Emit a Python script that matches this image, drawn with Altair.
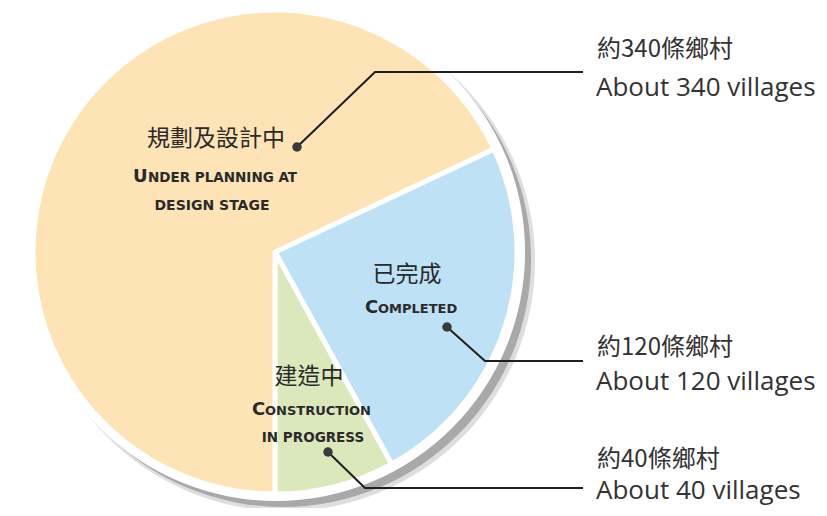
import math
import altair as alt
import pandas as pd

# ---- data ----
categories = ["Completed", "Construction in progress", "Under planning at design stage"]
villages = [120, 40, 340]
slice_order = [0, 1, 2]
slice_colors = ["#bfe1f6", "#dbe8bb", "#fde3b5"]

# inside labels (Chinese)
cn_labels = ["已完成", "建造中", "規劃及設計中"]
# right-hand labels
right_cn = ["約340條鄉村", "約120條鄉村", "約40條鄉村"]
right_en = ["About 340 villages", "About 120 villages", "About 40 villages"]

W, H = 811, 500
OFF = 8  # page margin; positions below are in page pixels
CX, CY, R = 275, 252, 242
start = math.radians(64.8)

xs = alt.Scale(domain=[OFF, W + OFF], nice=False, zero=False)
ys = alt.Scale(domain=[OFF, H + OFF], nice=False, zero=False, reverse=True)

one = pd.DataFrame({"k": [0]})

def disc(cx, cy, r, color):
    return alt.Chart(one).mark_arc(
        theta=0, theta2=2 * math.pi, outerRadius=r, color=color, strokeWidth=0
    ).encode(x=alt.value(cx - OFF), y=alt.value(cy - OFF))

shadow1 = disc(285, 261, 250, "#dedede")
shadow2 = disc(283, 259, 248, "#a9a9a9")
white = disc(276, 252, 249, "#ffffff")

pie_df = pd.DataFrame({"cat": categories, "v": villages, "ord": slice_order})
pie = alt.Chart(pie_df).mark_arc(
    outerRadius=R, stroke="white", strokeWidth=5
).encode(
    theta=alt.Theta("v:Q", stack=True,
                    scale=alt.Scale(range=[start, start + 2 * math.pi])),
    color=alt.Color("cat:N", scale=alt.Scale(domain=categories, range=slice_colors),
                    legend=None),
    order=alt.Order("ord:Q"),
    x=alt.value(CX - OFF), y=alt.value(CY - OFF),
)

# leader lines (dot -> elbow -> end)
lead = pd.DataFrame({
    "g": ["a"] * 3 + ["b"] * 3 + ["c"] * 3,
    "i": [0, 1, 2] * 3,
    "px": [297, 375, 583, 447, 485, 583, 328, 365, 583],
    "py": [147, 72, 72, 327, 361, 361, 452, 488, 488],
})
lines = alt.Chart(lead).mark_line(color="#1e1e1e", strokeWidth=2).encode(
    x=alt.X("px:Q", scale=xs, axis=None),
    y=alt.Y("py:Q", scale=ys, axis=None),
    detail="g:N", order="i:Q",
)
dots = alt.Chart(lead[lead.i == 0]).mark_circle(size=90, color="#3a3a3a", opacity=1).encode(
    x=alt.X("px:Q", scale=xs, axis=None),
    y=alt.Y("py:Q", scale=ys, axis=None),
)

def text_layer(df, font, weight="normal", align="center", color="#2a2a2a"):
    return alt.Chart(df).mark_text(
        font=font, fontWeight=weight, align=align, baseline="alphabetic", color=color
    ).encode(
        x=alt.X("px:Q", scale=xs, axis=None),
        y=alt.Y("py:Q", scale=ys, axis=None),
        text="t:N",
        size=alt.Size("s:Q", scale=None, legend=None),
    )

cn_in = pd.DataFrame({"t": cn_labels, "px": [407, 309, 216], "py": [282, 384, 146],
                      "s": [23, 23, 23]})
sc_big = pd.DataFrame({"t": ["U", "C", "C"], "px": [133, 365, 252],
                       "py": [182, 313, 415], "s": [18, 18, 18]})
sc_rest = pd.DataFrame({"t": ["NDER PLANNING AT", "OMPLETED", "ONSTRUCTION"],
                        "px": [148, 378, 265], "py": [182, 313, 415], "s": [13.5, 13, 13]})
sc_center = pd.DataFrame({"t": ["DESIGN STAGE", "IN PROGRESS"], "px": [212, 313],
                          "py": [210, 442], "s": [14, 13.5]})
r_cn = pd.DataFrame({"t": right_cn, "px": [597, 597, 597], "py": [57, 355, 467],
                     "s": [24, 24, 24]})
r_en = pd.DataFrame({"t": right_en, "px": [596, 596, 596], "py": [96, 390, 499],
                     "s": [26, 26, 26]})

cjk = "Noto Sans CJK TC"
sc_font = "DejaVu Sans"
chart = alt.layer(
    shadow1, shadow2, white, pie, lines, dots,
    text_layer(cn_in, cjk),
    text_layer(sc_big, sc_font, "bold", "left"),
    text_layer(sc_rest, sc_font, "bold", "left"),
    text_layer(sc_center, sc_font, "bold", "center"),
    text_layer(r_cn, cjk, "normal", "left", "#333333"),
    text_layer(r_en, "Open Sans", "normal", "left", "#333333"),
).properties(
    width=W, height=H, padding=0,
    autosize=alt.AutoSizeParams(type="none"),
).configure_view(stroke=None)

chart.save("out.html", embed_options={"renderer": "svg", "actions": False})
